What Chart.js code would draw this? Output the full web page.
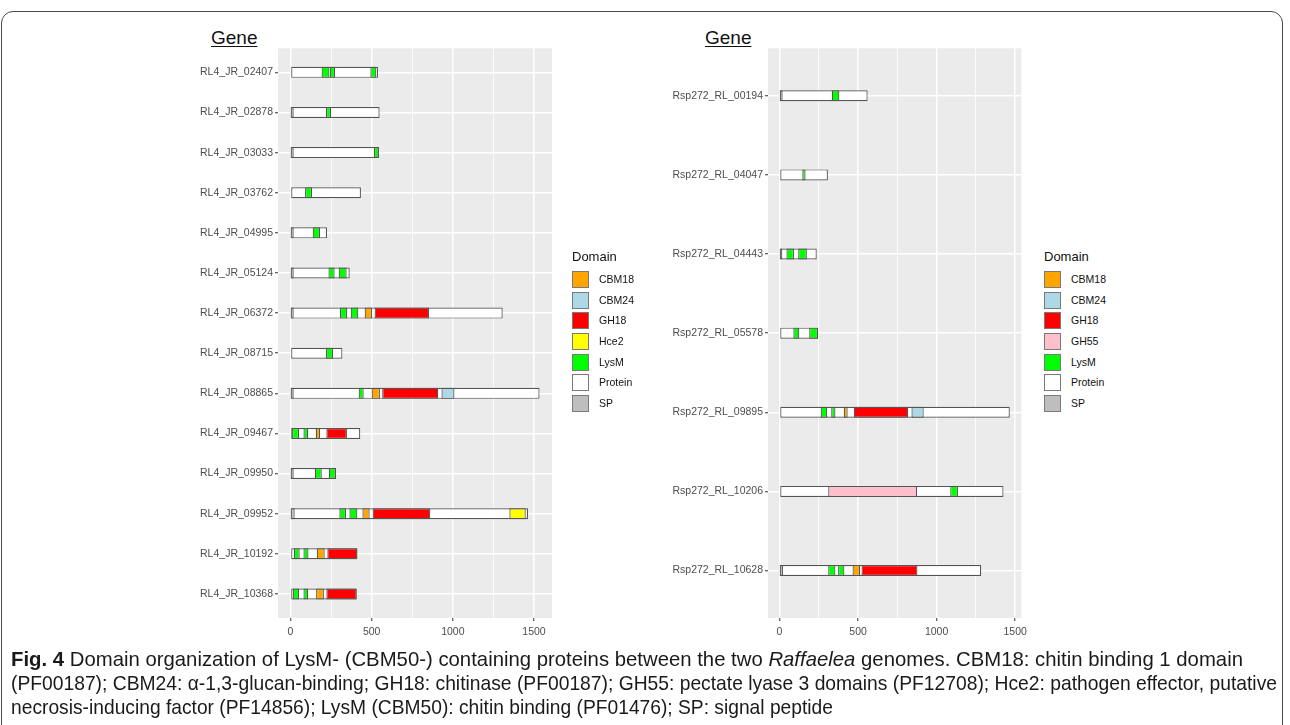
<!DOCTYPE html>
<html>
<head>
<meta charset="utf-8">
<script src="https://cdn.jsdelivr.net/npm/chart.js@4.4.1/dist/chart.umd.min.js"></script>
<style>
  html, body { margin: 0; padding: 0; background: #fff; }
  body { width: 1290px; height: 725px; position: relative; overflow: hidden;
         font-family: "Liberation Sans", Arial, Helvetica, sans-serif; }
  .frame { position: absolute; left: 1px; top: 11px; width: 1282px; height: 760px;
           border: 1.5px solid #4a4a4a; border-radius: 12px; box-sizing: border-box; }
  .panel { position: absolute; }
  .gene { position: absolute; font-size: 19px; text-decoration: underline;
          text-underline-offset: 2px; color: #111; line-height: 1; }
  .legend { position: absolute; color: #111; overflow: hidden; }
  .legend .title { position: absolute; left: 0; top: 0; font-size: 13px; line-height: 1; white-space: nowrap; }
  .legend .item { position: absolute; left: 0; height: 17px; white-space: nowrap; }
  .legend .key { position: absolute; left: 0; top: 0; width: 17px; height: 17px;
                 box-sizing: border-box; border: 1px solid #7a7a7a; }
  .legend .lab { position: absolute; top: 2px; font-size: 10.5px; line-height: 13px; }
  .caption { position: absolute; left: 11px; top: 647px; color: #1a1a1a;
             font-family: "Liberation Sans", Arial, sans-serif;
             font-size: 21px; line-height: 24px; white-space: nowrap; }
  .caption div { transform-origin: 0 50%; }
</style>
</head>
<body>
<div class="frame"></div>

<div class="gene" style="left:211px; top:28px;">Gene</div>
<div class="gene" style="left:705px; top:28px;">Gene</div>

<div class="panel" id="leftWrap" style="left:130px; top:40px; width:430px; height:610px;">
  <canvas id="leftChart" width="430" height="610"></canvas>
</div>
<div class="panel" id="rightWrap" style="left:620px; top:40px; width:412px; height:610px;">
  <canvas id="rightChart" width="412" height="610"></canvas>
</div>

<div class="legend" id="leftLegend" style="left:572px; top:250px; width:90px; height:170px;"></div>
<div class="legend" id="rightLegend" style="left:1044px; top:250px; width:63px; height:170px;"></div>

<div class="caption" id="caption">
  <div><b>Fig. 4</b> Domain organization of LysM- (CBM50-) containing proteins between the two <i>Raffaelea</i> genomes. CBM18: chitin binding 1 domain</div>
  <div>(PF00187); CBM24: α-1,3-glucan-binding; GH18: chitinase (PF00187); GH55: pectate lyase 3 domains (PF12708); Hce2: pathogen effector, putative</div>
  <div>necrosis-inducing factor (PF14856); LysM (CBM50): chitin binding (PF01476); SP: signal peptide</div>
</div>

<script>
// ---- Raffaelea sp. RL4 (left panel) ----
const genesLeft = ['RL4_JR_02407', 'RL4_JR_02878', 'RL4_JR_03033', 'RL4_JR_03762', 'RL4_JR_04995',
  'RL4_JR_05124', 'RL4_JR_06372', 'RL4_JR_08715', 'RL4_JR_08865', 'RL4_JR_09467',
  'RL4_JR_09950', 'RL4_JR_09952', 'RL4_JR_10192', 'RL4_JR_10368'];
const lengthLeft = [539, 549, 545, 434, 225, 365, 1307, 320, 1534, 430, 281, 1463, 412, 408];
const spLeft = [null, [1, 20], [1, 20], null, [1, 20], [1, 20], [1, 20], null, [1, 20], null,
  [1, 20], [1, 26], null, null];
const lysmLeft = [
  [[192, 240], [242, 275], [492, 529]], [[219, 250]], [[514, 543]], [[90, 133]], [[137, 182]],
  [[234, 272], [297, 346]], [[305, 350], [371, 418]], [[219, 262]], [[420, 451]],
  [[10, 53], [80, 109]], [[150, 193], [236, 279]], [[301, 342], [363, 412]],
  [[21, 57], [80, 111]], [[14, 53], [80, 109]]];
const cbm18Left = [null, null, null, null, null, null, [457, 502], null, [500, 551], [156, 182],
  null, [443, 488], [162, 211], [158, 206]];
const gh18Left = [null, null, null, null, null, null, [518, 854], null, [565, 910], [221, 348],
  null, [506, 861], [227, 412], [221, 408]];
const cbm24Left = [null, null, null, null, null, null, null, null, [930, 1010], null, null, null, null, null];
const hce2Left = [null, null, null, null, null, null, null, null, null, null, null, [1348, 1449], null, null];

// ---- Raffaelea sp. 272 (right panel) ----
const genesRight = ['Rsp272_RL_00194', 'Rsp272_RL_04047', 'Rsp272_RL_04443', 'Rsp272_RL_05578',
  'Rsp272_RL_09895', 'Rsp272_RL_10206', 'Rsp272_RL_10628'];
const lengthRight = [561, 308, 237, 245, 1466, 1426, 1284];
const spRight = [[1, 20], null, [1, 18], null, null, null, [1, 22]];
const lysmRight = [[[333, 381]], [[145, 166]], [[44, 92], [119, 174]], [[88, 126], [189, 245]],
  [[262, 304], [329, 356]], [[1087, 1136]], [[310, 356], [373, 413]]];
const cbm18Right = [null, null, null, null, [409, 434], null, [465, 513]];
const gh18Right = [null, null, null, null, [473, 819], null, [522, 878]];
const cbm24Right = [null, null, null, null, [840, 918], null, null];
const gh55Right = [null, null, null, null, null, [310, 876], null];

const xTicks = [0, 250, 500, 750, 1000, 1250, 1500];
const legendLeft = ['CBM18', 'CBM24', 'GH18', 'Hce2', 'LysM', 'Protein', 'SP'];
const legendRight = ['CBM18', 'CBM24', 'GH18', 'GH55', 'LysM', 'Protein', 'SP'];

const domainColors = {
  CBM18: '#FFA500', CBM24: '#ADD8E6', GH18: '#FF0000', Hce2: '#FFFF00',
  GH55: '#FFC0CB', LysM: '#00FF00', Protein: '#FFFFFF', SP: '#BEBEBE'
};

// one {x:[start,end], y:row} point per domain segment
function single(list) {
  const out = [];
  list.forEach((seg, i) => { if (seg) out.push({ x: seg, y: i }); });
  return out;
}
function multi(list) {
  const out = [];
  list.forEach((segs, i) => { (segs || []).forEach(seg => out.push({ x: seg, y: i })); });
  return out;
}
function barSet(label, data, order) {
  return {
    label, data, order,
    backgroundColor: domainColors[label],
    borderColor: '#555555',
    borderWidth: 1.2,
    borderSkipped: false,
    grouped: false,
    maxBarThickness: 11
  };
}

const panelBg = {
  id: 'panelBg',
  beforeDraw(chart) {
    const { ctx, chartArea: a } = chart;
    ctx.save();
    ctx.fillStyle = '#EBEBEB';
    ctx.fillRect(a.left, a.top, a.right - a.left, a.bottom - a.top);
    ctx.restore();
  }
};

const axisFont = { family: '"Liberation Sans", Arial, sans-serif', size: 10.5 };

function makeChart(canvasId, genes, lengths, domainSets, xMax) {
  const n = genes.length;
  const datasets = domainSets.concat([
    barSet('Protein', lengths.map((len, i) => ({ x: [0, len], y: i })), 5)
  ]);
  return new Chart(document.getElementById(canvasId), {
    type: 'bar',
    data: { datasets },
    plugins: [panelBg],
    options: {
      indexAxis: 'y',
      responsive: false,
      devicePixelRatio: 1,
      animation: false,
      layout: { padding: { top: 6, right: 8, left: 0, bottom: 0 } },
      plugins: { legend: { display: false }, tooltip: { enabled: false } },
      scales: {
        x: {
          type: 'linear',
          min: -0.05 * xMax,
          max: 1.05 * xMax,
          afterBuildTicks(axis) { axis.ticks = xTicks.map(v => ({ value: v })); },
          afterFit(axis) { axis.height = 32; },
          border: { display: false },
          grid: {
            color: '#FFFFFF',
            lineWidth: c => (c.tick && c.tick.value % 500 === 0) ? 1.5 : 0.8,
            tickColor: c => (c.tick && c.tick.value % 500 === 0) ? '#333333' : 'rgba(0,0,0,0)',
            tickLength: 3,
            tickWidth: 1
          },
          ticks: {
            callback: v => (v % 500 === 0 ? String(v) : ''),
            color: '#4D4D4D',
            font: axisFont,
            padding: 5,
            maxRotation: 0,
            autoSkip: false
          }
        },
        y: {
          type: 'linear',
          reverse: true,
          offset: false,
          min: -0.6,
          max: n - 0.4,
          afterBuildTicks(axis) { axis.ticks = genes.map((g, i) => ({ value: i })); },
          afterFit(axis) { axis.width = 148; },
          border: { display: false },
          grid: {
            offset: false,
            color: '#FFFFFF',
            lineWidth: 1.5,
            tickColor: '#333333',
            tickLength: 3,
            tickWidth: 1
          },
          ticks: {
            callback: v => genes[v],
            color: '#4D4D4D',
            font: axisFont,
            padding: 2,
            autoSkip: false
          }
        }
      }
    }
  });
}

makeChart('leftChart', genesLeft, lengthLeft, [
  barSet('SP', single(spLeft), 1),
  barSet('LysM', multi(lysmLeft), 1),
  barSet('CBM18', single(cbm18Left), 1),
  barSet('GH18', single(gh18Left), 1),
  barSet('CBM24', single(cbm24Left), 1),
  barSet('Hce2', single(hce2Left), 1)
], Math.max(...lengthLeft));

makeChart('rightChart', genesRight, lengthRight, [
  barSet('SP', single(spRight), 1),
  barSet('LysM', multi(lysmRight), 1),
  barSet('CBM18', single(cbm18Right), 1),
  barSet('GH18', single(gh18Right), 1),
  barSet('CBM24', single(cbm24Right), 1),
  barSet('GH55', single(gh55Right), 1)
], Math.max(...lengthRight));

// "Domain" legends
function buildLegend(id, names, labelLeft) {
  const box = document.getElementById(id);
  const t = document.createElement('div');
  t.className = 'title';
  t.textContent = 'Domain';
  box.appendChild(t);
  names.forEach((name, i) => {
    const item = document.createElement('div');
    item.className = 'item';
    item.style.top = (21 + i * 20.65) + 'px';
    const key = document.createElement('div');
    key.className = 'key';
    key.style.background = domainColors[name];
    const lab = document.createElement('div');
    lab.className = 'lab';
    lab.style.left = labelLeft + 'px';
    lab.textContent = name;
    item.appendChild(key);
    item.appendChild(lab);
    box.appendChild(item);
  });
}
buildLegend('leftLegend', legendLeft, 27);
buildLegend('rightLegend', legendRight, 27);

// the caption is set in a condensed face: narrow each line to its set width
const lines = Array.from(document.querySelectorAll('#caption > div'));
const lineWidths = [1232, 1266, 822];
lines.forEach((line, i) => {
  line.style.display = 'inline-block';
  const w = line.getBoundingClientRect().width;
  line.style.display = 'block';
  line.style.transform = 'scaleX(' + (lineWidths[i] / w) + ')';
});
</script>
</body>
</html>
